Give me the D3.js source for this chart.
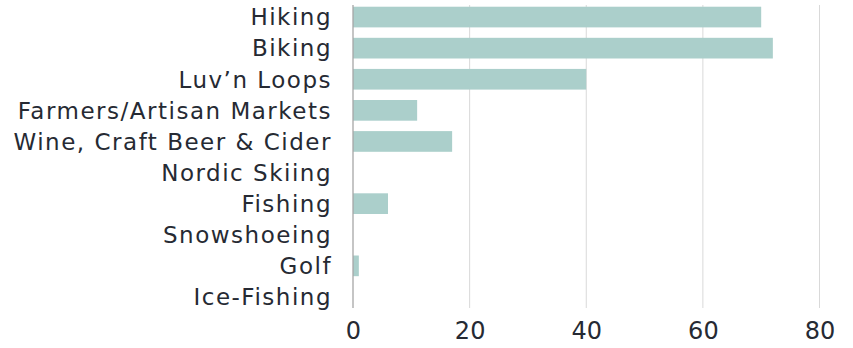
<!DOCTYPE html>
<html>
<head>
<meta charset="utf-8">
<script src="https://cdn.jsdelivr.net/npm/d3@7"></script>
<style>
  html, body { margin: 0; padding: 0; background: #fff; }
  svg { display: block; }
  text { font-family: "Century Gothic", "DejaVu Sans", sans-serif; fill: #262a33; }
</style>
</head>
<body>
<svg id="chart" width="853" height="348"></svg>
<script>
// Activity counts
const categories = ["Hiking", "Biking", "Luv\u2019n Loops", "Farmers/Artisan Markets",
  "Wine, Craft Beer & Cider", "Nordic Skiing", "Fishing", "Snowshoeing", "Golf", "Ice-Fishing"];
const values = [70, 72, 40, 11, 17, 0, 6, 0, 1, 0];
const xTicks = [0, 20, 40, 60, 80];

const svg = d3.select("#chart");
const left = 353, right = 819.5, gridTop = 5, gridBottom = 308;

const x = d3.scaleLinear().domain([0, 80]).range([left, right]);
const y = d3.scaleBand().domain(categories).range([1.5, 312.5])
  .paddingInner(0.335).paddingOuter(0.1675);

// vertical gridlines
svg.append("g").selectAll("line").data(xTicks.filter(d => d > 0)).join("line")
  .attr("x1", d => x(d)).attr("x2", d => x(d))
  .attr("y1", gridTop).attr("y2", gridBottom)
  .attr("stroke", "#d9d9d9").attr("stroke-width", 1);

// bars
svg.append("g").selectAll("rect").data(categories).join("rect")
  .attr("x", x(0))
  .attr("y", d => y(d))
  .attr("width", (d, i) => x(values[i]) - x(0))
  .attr("height", y.bandwidth())
  .attr("fill", "#abcfcb");

// category axis line
svg.append("line")
  .attr("x1", x(0)).attr("x2", x(0))
  .attr("y1", gridTop).attr("y2", gridBottom)
  .attr("stroke", "#a6a6a6").attr("stroke-width", 1.3);

// category labels
const yAxis = d3.axisLeft(y).tickSize(0).tickPadding(21);
const yg = svg.append("g").attr("transform", `translate(${x(0)},0)`).call(yAxis);
yg.select(".domain").remove();
yg.selectAll("text").style("font-size", "23px").attr("dy", "0.36em")
  .style("font-family", null).attr("fill", null);

// widen the labels' tracking so the longest one spans 317px
const labelNodes = yg.selectAll("text").nodes();
const longest = labelNodes.reduce((a, n) => n.getComputedTextLength() > a.getComputedTextLength() ? n : a);
const extra = (317 - longest.getComputedTextLength()) / (longest.textContent.length - 1);
if (extra > 0) yg.selectAll("text").style("letter-spacing", extra + "px");

// value axis labels
const xAxis = d3.axisBottom(x).tickValues(xTicks).tickSize(0).tickPadding(0);
const xg = svg.append("g").attr("transform", `translate(0,${gridBottom})`).call(xAxis);
xg.select(".domain").remove();
xg.selectAll("text").style("font-size", "24px").attr("dy", "1.3em")
  .style("font-family", null).attr("fill", null);
</script>
</body>
</html>
